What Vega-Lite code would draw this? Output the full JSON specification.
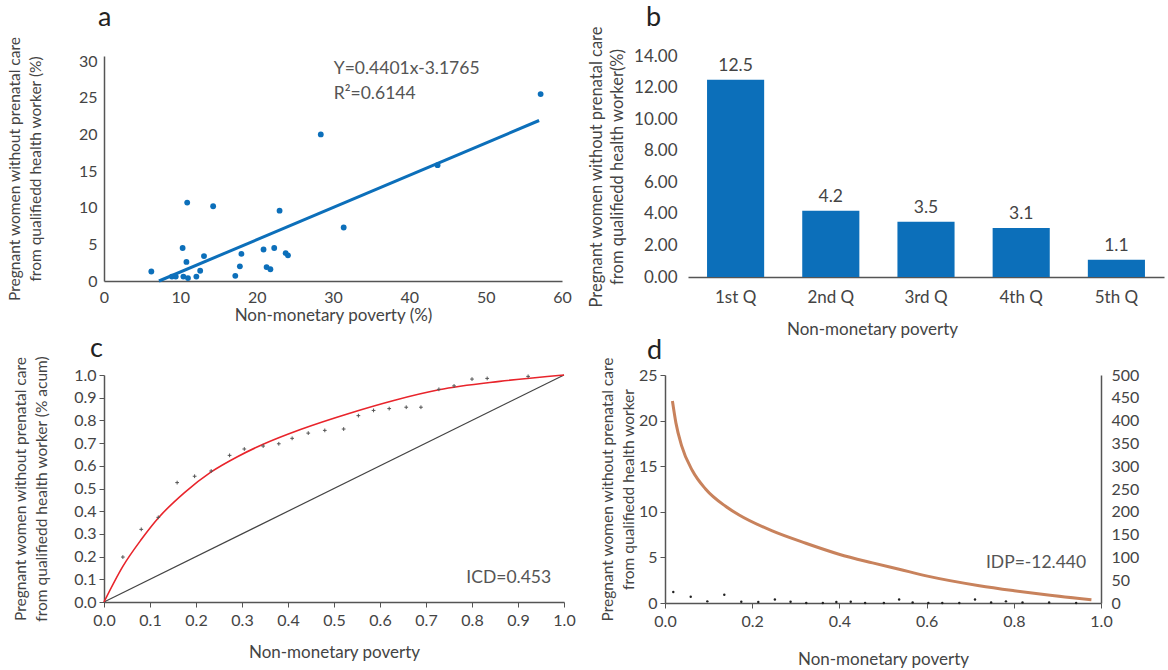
{
  "$schema": "https://vega.github.io/schema/vega-lite/v6.json",
  "padding": {"left": 7, "top": 3, "right": 2, "bottom": 2},
  "config": {
    "font": "Lato",
    "view": {"stroke": null},
    "axis": {"grid": false, "labelColor": "#444", "titleColor": "#444", "domainColor": "#555", "tickColor": "#555", "labelFontSize": 16, "titleFontSize": 17, "titleFontWeight": "normal", "domainWidth": 1.5, "labelFont": "Lato", "titleFont": "Lato", "labelOverlap": false, "labelFlush": false, "titleLineHeight": 21},
    "title": {"fontSize": 27, "fontWeight": "normal", "anchor": "start", "frame": "group", "color": "#222"}
  },
  "datasets": {
    "scatter": [
      {"x": 6.2, "y": 1.3}, {"x": 8.9, "y": 0.6}, {"x": 9.4, "y": 0.6}, {"x": 10.3, "y": 4.5}, {"x": 10.4, "y": 0.6},
      {"x": 10.8, "y": 2.6}, {"x": 10.9, "y": 10.7}, {"x": 11.0, "y": 0.4}, {"x": 12.1, "y": 0.6}, {"x": 12.6, "y": 1.4},
      {"x": 13.1, "y": 3.4}, {"x": 14.3, "y": 10.2}, {"x": 17.2, "y": 0.7}, {"x": 17.8, "y": 2.0}, {"x": 18.0, "y": 3.7},
      {"x": 20.9, "y": 4.3}, {"x": 21.3, "y": 1.9}, {"x": 21.8, "y": 1.6}, {"x": 22.3, "y": 4.5}, {"x": 23.0, "y": 9.6},
      {"x": 23.8, "y": 3.8}, {"x": 24.1, "y": 3.5}, {"x": 28.4, "y": 20.0}, {"x": 31.4, "y": 7.3}, {"x": 43.7, "y": 15.8},
      {"x": 57.2, "y": 25.5}
    ],
    "fit": [{"x": 7.2, "y": 0}, {"x": 57.0, "y": 21.9}],
    "eqA": [{"x": 30.1, "y": 28.9, "t": "Y=0.4401x-3.1765"}, {"x": 30.1, "y": 25.5, "t": "R²=0.6144"}],
    "bars": [
      {"q": "1st Q", "v": 12.5}, {"q": "2nd Q", "v": 4.2}, {"q": "3rd Q", "v": 3.5}, {"q": "4th Q", "v": 3.1}, {"q": "5th Q", "v": 1.1}
    ],
    "diag": [{"x": 0, "y": 0}, {"x": 1, "y": 1}],
    "conc": [
      {"x": 0, "y": 0}, {"x": 0.041, "y": 0.157}, {"x": 0.081, "y": 0.275}, {"x": 0.118, "y": 0.37}, {"x": 0.175, "y": 0.482},
      {"x": 0.233, "y": 0.573}, {"x": 0.29, "y": 0.64}, {"x": 0.346, "y": 0.695}, {"x": 0.427, "y": 0.76}, {"x": 0.536, "y": 0.833},
      {"x": 0.63, "y": 0.888}, {"x": 0.728, "y": 0.935}, {"x": 0.86, "y": 0.972}, {"x": 1.0, "y": 1.0}
    ],
    "cpts": [
      {"x": 0.041, "y": 0.198}, {"x": 0.081, "y": 0.32}, {"x": 0.118, "y": 0.373}, {"x": 0.159, "y": 0.526}, {"x": 0.197, "y": 0.554},
      {"x": 0.233, "y": 0.577}, {"x": 0.273, "y": 0.646}, {"x": 0.305, "y": 0.674}, {"x": 0.346, "y": 0.687}, {"x": 0.38, "y": 0.697},
      {"x": 0.409, "y": 0.721}, {"x": 0.444, "y": 0.744}, {"x": 0.48, "y": 0.756}, {"x": 0.521, "y": 0.762}, {"x": 0.553, "y": 0.821},
      {"x": 0.586, "y": 0.844}, {"x": 0.62, "y": 0.852}, {"x": 0.657, "y": 0.858}, {"x": 0.689, "y": 0.858}, {"x": 0.728, "y": 0.937},
      {"x": 0.761, "y": 0.952}, {"x": 0.8, "y": 0.982}, {"x": 0.833, "y": 0.985}, {"x": 0.922, "y": 0.994}
    ],
    "dpts": [
      {"x": 0.019, "y": 1.2}, {"x": 0.059, "y": 0.69}, {"x": 0.097, "y": 0.18}, {"x": 0.136, "y": 0.91}, {"x": 0.175, "y": 0.14},
      {"x": 0.214, "y": 0.1}, {"x": 0.252, "y": 0.39}, {"x": 0.288, "y": 0.14}, {"x": 0.324, "y": 0.0}, {"x": 0.362, "y": 0.0},
      {"x": 0.393, "y": 0.1}, {"x": 0.426, "y": 0.14}, {"x": 0.459, "y": 0.0}, {"x": 0.502, "y": 0.0}, {"x": 0.537, "y": 0.39},
      {"x": 0.568, "y": 0.05}, {"x": 0.604, "y": 0.0}, {"x": 0.636, "y": 0.0}, {"x": 0.675, "y": 0.0}, {"x": 0.711, "y": 0.39},
      {"x": 0.748, "y": 0.05}, {"x": 0.782, "y": 0.18}, {"x": 0.82, "y": 0.05}, {"x": 0.881, "y": 0.05}, {"x": 0.943, "y": 0.0}
    ],
    "dcurve": [
      {"x": 0.017, "y": 443}, {"x": 0.025, "y": 395}, {"x": 0.038, "y": 345}, {"x": 0.063, "y": 290}, {"x": 0.093, "y": 250},
      {"x": 0.139, "y": 212}, {"x": 0.17, "y": 193}, {"x": 0.246, "y": 158}, {"x": 0.323, "y": 131}, {"x": 0.399, "y": 107},
      {"x": 0.476, "y": 88}, {"x": 0.537, "y": 74}, {"x": 0.602, "y": 59}, {"x": 0.721, "y": 38}, {"x": 0.801, "y": 27},
      {"x": 0.874, "y": 18}, {"x": 0.978, "y": 7}
    ]
  },
  "vconcat": [
    {
      "spacing": 16,
      "hconcat": [
        {
          "width": 458, "height": 225,
          "title": {"text": "a", "dx": -6, "offset": 4},
          "encoding": {
            "x": {"field": "x", "type": "quantitative", "scale": {"domain": [0, 60]},
              "axis": {"values": [0, 10, 20, 30, 40, 50, 60], "ticks": false, "labelOverlap": false, "labelPadding": 8, "title": "Non-monetary poverty (%)", "titlePadding": 2}},
            "y": {"field": "y", "type": "quantitative", "scale": {"domain": [0, 30.7], "nice": false},
              "axis": {"values": [0, 5, 10, 15, 20, 25, 30], "ticks": false, "labelOverlap": false, "labelPadding": 7, "titleFontSize": 15.5, "titlePadding": 35,
                "title": ["Pregnant women without prenatal care", "from qualifiedd health worker (%)"]}}
          },
          "layer": [
            {
              "data": {"name": "scatter"},
              "mark": {"type": "circle", "size": 34, "opacity": 1, "color": "#0c6fba"}
            },
            {
              "data": {"name": "fit"},
              "mark": {"type": "line", "color": "#0c6fba", "strokeWidth": 3}
            },
            {
              "data": {"name": "eqA"},
              "mark": {"type": "text", "align": "left", "baseline": "middle", "fontSize": 17.5, "color": "#555"},
              "encoding": {"text": {"field": "t"}}
            }
          ]
        },
        {
          "width": 476, "height": 221,
          "title": {"text": "b", "dx": -42, "offset": -6},
          "data": {"name": "bars"},
          "encoding": {
            "x": {"field": "q", "type": "nominal", "sort": null, "scale": {"paddingInner": 0.4, "paddingOuter": 0.2},
              "axis": {"labelAngle": 0, "ticks": false, "labelPadding": 12, "labelFontSize": 17, "title": "Non-monetary poverty", "titlePadding": 16, "titleX": 184}},
            "y": {"field": "v", "type": "quantitative", "scale": {"domain": [0, 14]},
              "axis": {"values": [0, 2, 4, 6, 8, 10, 12, 14], "format": ".2f", "domain": false, "ticks": false, "labelOverlap": false, "labelPadding": 11, "labelFontSize": 17, "titleFontSize": 16.5, "titlePadding": 8,
                "title": ["Pregnant women without prenatal care", "from qualifiedd health worker(%)"]}}
          },
          "layer": [
            {
              "mark": {"type": "bar", "color": "#0c6fba"}
            },
            {
              "mark": {"type": "text", "baseline": "bottom", "dy": -5, "fontSize": 17.5, "color": "#444"},
              "encoding": {"text": {"field": "v", "type": "quantitative", "format": ".1f"}}
            }
          ]
        }
      ]
    },
    {
      "spacing": 24,
      "hconcat": [
        {
          "width": 460, "height": 227,
          "title": {"text": "c", "dx": -14, "offset": -8},
          "encoding": {
            "x": {"field": "x", "type": "quantitative", "scale": {"domain": [0, 1]},
              "axis": {"values": [0, 0.1, 0.2, 0.3, 0.4, 0.5, 0.6, 0.7, 0.8, 0.9, 1], "format": ".1f", "tickSize": 5, "labelPadding": 5, "title": "Non-monetary poverty", "titlePadding": 16}},
            "y": {"field": "y", "type": "quantitative", "scale": {"domain": [0, 1]},
              "axis": {"values": [0, 0.1, 0.2, 0.3, 0.4, 0.5, 0.6, 0.7, 0.8, 0.9, 1], "format": ".1f", "tickSize": 5, "labelPadding": 3, "titleFontSize": 15.5, "titlePadding": 24,
                "title": ["Pregnant women without prenatal care", "from qualifiedd health worker (% acum)"]}}
          },
          "layer": [
            {
              "data": {"name": "diag"},
              "mark": {"type": "line", "color": "#444", "strokeWidth": 1.2}
            },
            {
              "data": {"name": "conc"},
              "mark": {"type": "line", "color": "#e8242b", "strokeWidth": 1.6, "interpolate": "monotone"}
            },
            {
              "data": {"name": "cpts"},
              "mark": {"type": "point", "shape": "M-1,0L1,0M0,-1L0,1", "filled": false, "size": 14, "strokeWidth": 1, "color": "#555", "opacity": 1}
            },
            {
              "data": {"values": [{"x": 0.972, "y": 0.106, "t": "ICD=0.453"}]},
              "mark": {"type": "text", "align": "right", "baseline": "middle", "fontSize": 17.5, "color": "#555"},
              "encoding": {"text": {"field": "t"}}
            }
          ]
        },
        {
          "width": 436, "height": 228,
          "title": {"text": "d", "dx": -18, "offset": -8},
          "resolve": {"scale": {"y": "independent"}},
          "encoding": {
            "x": {"field": "x", "type": "quantitative", "scale": {"domain": [0, 1]},
              "axis": {"values": [0, 0.2, 0.4, 0.6, 0.8, 1], "format": ".1f", "tickSize": 5, "labelPadding": 5, "title": "Non-monetary poverty", "titlePadding": 22}}
          },
          "layer": [
            {
              "data": {"name": "dpts"},
              "mark": {"type": "circle", "size": 6, "color": "#222", "opacity": 1},
              "encoding": {
                "y": {"field": "y", "type": "quantitative", "scale": {"domain": [0, 25]},
                  "axis": {"values": [0, 5, 10, 15, 20, 25], "tickSize": 5, "labelPadding": 3, "titleFontSize": 15.5, "titlePadding": 2,
                    "title": ["Pregnant women without prenatal care", "from qualifiedd health worker"]}}
              }
            },
            {
              "data": {"name": "dcurve"},
              "mark": {"type": "line", "color": "#c8825c", "strokeWidth": 3, "interpolate": "monotone"},
              "encoding": {
                "y": {"field": "y", "type": "quantitative", "scale": {"domain": [0, 500]},
                  "axis": {"orient": "right", "values": [0, 50, 100, 150, 200, 250, 300, 350, 400, 450, 500], "ticks": false, "labelOverlap": false, "labelPadding": 10, "title": null}}
              }
            },
            {
              "data": {"values": [{"x": 0.966, "y": 4.4, "t": "IDP=-12.440"}]},
              "mark": {"type": "text", "align": "right", "baseline": "middle", "fontSize": 17.5, "color": "#555"},
              "encoding": {"y": {"field": "y", "type": "quantitative", "scale": {"domain": [0, 25]}, "axis": null}, "text": {"field": "t"}}
            }
          ]
        }
      ]
    }
  ],
  "spacing": -2
}
